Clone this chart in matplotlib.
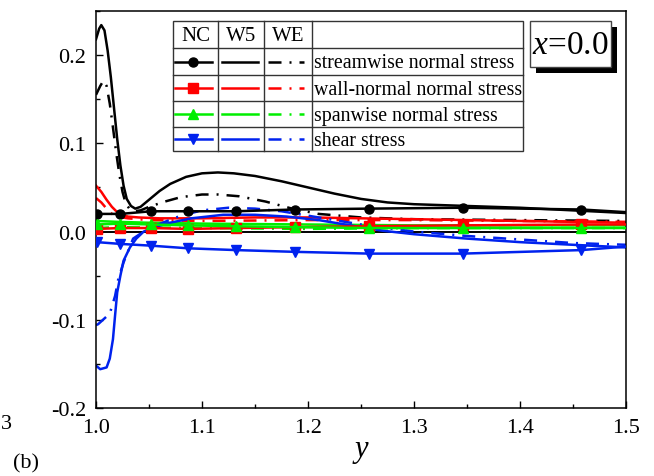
import matplotlib
matplotlib.use('Agg')
import matplotlib.pyplot as plt
from matplotlib.ticker import MultipleLocator, FormatStrFormatter
from matplotlib.patches import Rectangle

plt.rcParams['font.family'] = 'Liberation Serif'
plt.rcParams['mathtext.fontset'] = 'custom'
plt.rcParams['mathtext.rm'] = 'Liberation Serif'
plt.rcParams['mathtext.it'] = 'Liberation Serif:italic'
plt.rcParams['axes.unicode_minus'] = False

# NC marker stations (shared by all four NC curves)
x_nc = [1.001, 1.023, 1.052, 1.087, 1.132, 1.188, 1.258, 1.346, 1.458, 1.500]
uu_nc = [0.020, 0.020, 0.023, 0.023, 0.023, 0.025, 0.026, 0.027, 0.025, 0.022]
vv_nc = [0.003, 0.004, 0.004, 0.003, 0.004, 0.005, 0.006, 0.007, 0.008, 0.008]
ww_nc = [0.008, 0.009, 0.008, 0.007, 0.006, 0.005, 0.004, 0.004, 0.004, 0.004]
uv_nc = [-0.012, -0.014, -0.016, -0.019, -0.021, -0.023, -0.025, -0.025, -0.021, -0.017]

# W5 streamwise normal stress
x_uu_w5 = [1.000, 1.003, 1.005, 1.008, 1.011, 1.014, 1.017, 1.020, 1.023, 1.026,
           1.029, 1.033, 1.037, 1.042, 1.050, 1.060, 1.070, 1.085, 1.100, 1.115,
           1.130, 1.150, 1.175, 1.200, 1.225, 1.250, 1.275, 1.300, 1.350, 1.400,
           1.450, 1.500]
uu_w5 = [0.218, 0.230, 0.234, 0.228, 0.205, 0.175, 0.140, 0.105, 0.075, 0.052,
         0.037, 0.029, 0.026, 0.028, 0.036, 0.046, 0.054, 0.062, 0.066, 0.067,
         0.066, 0.063, 0.057, 0.050, 0.043, 0.037, 0.033, 0.031, 0.029, 0.027,
         0.024, 0.021]

# WE streamwise normal stress
x_uu_we = [1.000, 1.004, 1.007, 1.010, 1.013, 1.016, 1.019, 1.022, 1.025, 1.028,
           1.032, 1.036, 1.042, 1.050, 1.065, 1.080, 1.100, 1.115, 1.135, 1.160,
           1.185, 1.210, 1.250, 1.300, 1.400, 1.500]
uu_we = [0.155, 0.165, 0.171, 0.165, 0.145, 0.118, 0.090, 0.065, 0.045, 0.032,
         0.025, 0.023, 0.024, 0.028, 0.034, 0.039, 0.042, 0.042, 0.040, 0.034,
         0.026, 0.020, 0.016, 0.014, 0.013, 0.012]

# wall-normal normal stress
x_vv_w5 = [1.000, 1.005, 1.010, 1.015, 1.020, 1.025, 1.030, 1.040, 1.060, 1.100,
           1.150, 1.200, 1.250, 1.300, 1.400, 1.500]
vv_w5 = [0.052, 0.045, 0.036, 0.028, 0.022, 0.019, 0.017, 0.016, 0.015, 0.015,
         0.016, 0.016, 0.015, 0.014, 0.012, 0.010]
x_vv_we = [1.000, 1.005, 1.010, 1.015, 1.020, 1.030, 1.050, 1.100, 1.200, 1.300,
           1.400, 1.500]
vv_we = [0.038, 0.033, 0.026, 0.020, 0.017, 0.015, 0.013, 0.012, 0.013, 0.013,
         0.012, 0.011]

# spanwise normal stress
x_ww_w5 = [1.000, 1.020, 1.050, 1.100, 1.200, 1.300, 1.400, 1.500]
ww_w5 = [0.012, 0.011, 0.010, 0.009, 0.008, 0.007, 0.007, 0.007]
x_ww_we = [1.000, 1.020, 1.100, 1.200, 1.300, 1.500]
ww_we = [0.004, 0.005, 0.004, 0.003, 0.004, 0.004]

# shear stress
x_uv_w5 = [1.000, 1.004, 1.010, 1.013, 1.016, 1.018, 1.020, 1.023, 1.026, 1.032,
           1.038, 1.045, 1.055, 1.070, 1.090, 1.120, 1.150, 1.180, 1.210, 1.240,
           1.270, 1.300, 1.350, 1.400, 1.450, 1.500]
uv_w5 = [-0.152, -0.156, -0.154, -0.144, -0.122, -0.095, -0.069, -0.050, -0.033, -0.018,
         -0.008, 0.000, 0.005, 0.010, 0.015, 0.019, 0.019, 0.017, 0.013, 0.007,
         0.001, -0.003, -0.008, -0.012, -0.015, -0.018]
x_uv_we = [1.000, 1.002, 1.013, 1.018, 1.021, 1.026, 1.031, 1.035, 1.045, 1.055,
           1.065, 1.080, 1.100, 1.125, 1.150, 1.175, 1.200, 1.230, 1.260, 1.300,
           1.350, 1.400, 1.450, 1.500]
uv_we = [-0.106, -0.105, -0.093, -0.073, -0.054, -0.035, -0.020, -0.008, 0.000, 0.006,
         0.011, 0.018, 0.024, 0.027, 0.026, 0.023, 0.018, 0.012, 0.006, 0.000,
         -0.005, -0.009, -0.013, -0.015]

labels = ['streamwise normal stress', 'wall-normal normal stress',
          'spanwise normal stress', 'shear stress']
colors = ['black', '#ff0000', '#00ee00', '#0022ee']
markers = ['o', 's', '^', 'v']

dashdot = (0, (5.2, 3.2, 0.8, 3.2))
lw = 1.8

fig = plt.figure(figsize=(6.54, 4.77), dpi=100)
ax = fig.add_axes([96 / 654, 68 / 477, 530 / 654, 397 / 477])

ax.axhline(0, color='black', lw=1.4, zorder=1)

groups = [
    (x_nc, uu_nc, x_uu_w5, uu_w5, x_uu_we, uu_we),
    (x_nc, vv_nc, x_vv_w5, vv_w5, x_vv_we, vv_we),
    (x_nc, ww_nc, x_ww_w5, ww_w5, x_ww_we, ww_we),
    (x_nc, uv_nc, x_uv_w5, uv_w5, x_uv_we, uv_we),
]
for (xn, yn, xw, yw, xe, ye), c, m in zip(groups, colors, markers):
    ax.plot(xw, yw, color=c, lw=lw, zorder=2)
    ax.plot(xe, ye, color=c, lw=lw, ls=dashdot, zorder=2)
    ax.plot(xn[:-1], yn[:-1], color=c, lw=0, marker=m, ms=6.5, zorder=3)
    ax.plot(xn, yn, color=c, lw=lw, zorder=3)

ax.set_xlim(1.0, 1.5)
ax.set_ylim(-0.2, 0.25)
ax.xaxis.set_major_locator(MultipleLocator(0.1))
ax.xaxis.set_minor_locator(MultipleLocator(0.05))
ax.yaxis.set_major_locator(MultipleLocator(0.1))
ax.yaxis.set_minor_locator(MultipleLocator(0.05))
ax.xaxis.set_major_formatter(FormatStrFormatter('%.1f'))
ax.yaxis.set_major_formatter(FormatStrFormatter('%.1f'))
ax.tick_params(which='both', direction='in', top=False, right=False,
               labelsize=16, width=1.0)
ax.tick_params(which='major', length=5, pad=7)
ax.tick_params(which='minor', length=3)
for s in ax.spines.values():
    s.set_linewidth(1.1)
ax.set_xlabel('y', fontsize=22, fontstyle='italic', labelpad=-2)

# table-style legend and station tag drawn in pixel coordinates
ov = fig.add_axes([0, 0, 1, 1])
ov.set_xlim(0, 654)
ov.set_ylim(477, 0)
ov.axis('off')

cols = [172.7, 218.3, 264.0, 311.7, 523.3]
rows = [22.3, 49.0, 76.0, 102.3, 128.3, 152.3]
ov.add_patch(Rectangle((cols[0], rows[0]), cols[-1] - cols[0], rows[-1] - rows[0],
                       facecolor='white', edgecolor='#333333', lw=1.0, zorder=5))
for xc in cols[1:-1]:
    ov.plot([xc, xc], [rows[0], rows[-1]], color='#333333', lw=1.0, zorder=6)
for yr in rows[1:-1]:
    ov.plot([cols[0], cols[-1]], [yr, yr], color='#333333', lw=1.0, zorder=6)

for name, i in zip(['NC', 'W5', 'WE'], range(3)):
    ov.text((cols[i] + cols[i + 1]) / 2, (rows[0] + rows[1]) / 2 + 1, name,
            ha='center', va='center', fontsize=15, zorder=7)

for r, (lab, c, m) in enumerate(zip(labels, colors, markers)):
    yc = (rows[r + 1] + rows[r + 2]) / 2
    ov.plot([175, 212], [yc, yc], color=c, lw=lw, zorder=7)
    ov.plot([193], [yc], color=c, marker=m, ms=6.5, zorder=8)
    ov.plot([222, 258], [yc, yc], color=c, lw=lw, zorder=7)
    ov.plot([268, 304], [yc, yc], color=c, lw=lw, ls=dashdot, zorder=7)
    ov.text(314, yc + 1, lab, ha='left', va='center', fontsize=14.3, zorder=7)

# x=0.0 tag with drop shadow
ov.add_patch(Rectangle((536, 28), 81, 46, facecolor='black', edgecolor='none', zorder=5))
ov.add_patch(Rectangle((530, 22), 81, 46, facecolor='white', edgecolor='#444444',
                       lw=1.0, zorder=6))
ov.text(570.5, 46, r'$x$=0.0', ha='center', va='center', fontsize=24, zorder=7)

fig.text(26 / 654, 1 - 464 / 477, '(b)', ha='center', va='center', fontsize=16)
fig.text(1 / 654, 1 - 425 / 477, '3', ha='left', va='center', fontsize=16)

fig.savefig('out.png', dpi=100)
